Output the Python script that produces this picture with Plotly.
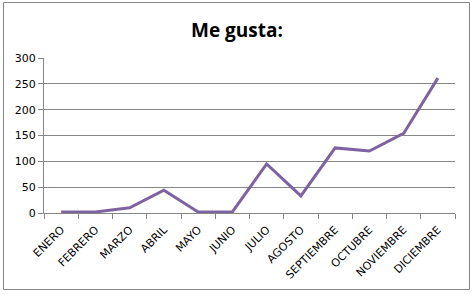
import plotly.graph_objects as go

months = ["ENERO", "FEBRERO", "MARZO", "ABRIL", "MAYO", "JUNIO", "JULIO",
          "AGOSTO", "SEPTIEMBRE", "OCTUBRE", "NOVIEMBRE", "DICIEMBRE"]
likes = [2, 2, 10, 44, 2, 2, 95, 33, 126, 120, 154, 261]
y_ticks = [0, 50, 100, 150, 200, 250, 300]

W, H = 474, 295
L, R, T, B = 44, 19, 58, 82
pw, ph = W - L - R, H - T - B

fig = go.Figure()
fig.add_trace(go.Scatter(x=months, y=likes, mode="lines",
                         line=dict(color="#7F63A1", width=3), hoverinfo="x+y"))

def px2paper_x(px):
    return (px - L) / pw

def px2paper_y(py):
    return (H - B - py) / ph

fig.add_shape(type="rect", xref="paper", yref="paper",
              x0=px2paper_x(3.5), x1=px2paper_x(469.5),
              y0=px2paper_y(289.5), y1=px2paper_y(2.5),
              line=dict(color="#868686", width=1), layer="below")

fig.update_layout(
    width=W, height=H,
    margin=dict(l=L, r=R, t=T, b=B),
    paper_bgcolor="white", plot_bgcolor="white",
    showlegend=False,
    title=dict(text="<b>Me gusta:</b>", x=0.5, xanchor="center", y=1 - 30 / H, yanchor="middle",
               font=dict(family="Open Sans", size=19, color="black")),
    font=dict(family="DejaVu Sans", size=10, color="black"),
    xaxis=dict(type="category", range=[-0.5, len(months) - 0.5], tickangle=-45,
               ticks="outside", tickson="boundaries", ticklabelstandoff=5,
               ticklen=5, tickcolor="#868686", showline=True, linecolor="#868686",
               linewidth=1, showgrid=False, tickfont=dict(size=11, family="DejaVu Sans")),
    yaxis=dict(range=[0, 300], tickvals=y_ticks, ticks="outside", ticklen=5,
               tickcolor="#868686", showline=True, linecolor="#868686", linewidth=1,
               showgrid=True, gridcolor="#868686", gridwidth=1, zeroline=False,
               tickfont=dict(size=11, family="DejaVu Sans")),
)

fig.write_html("out.html")
